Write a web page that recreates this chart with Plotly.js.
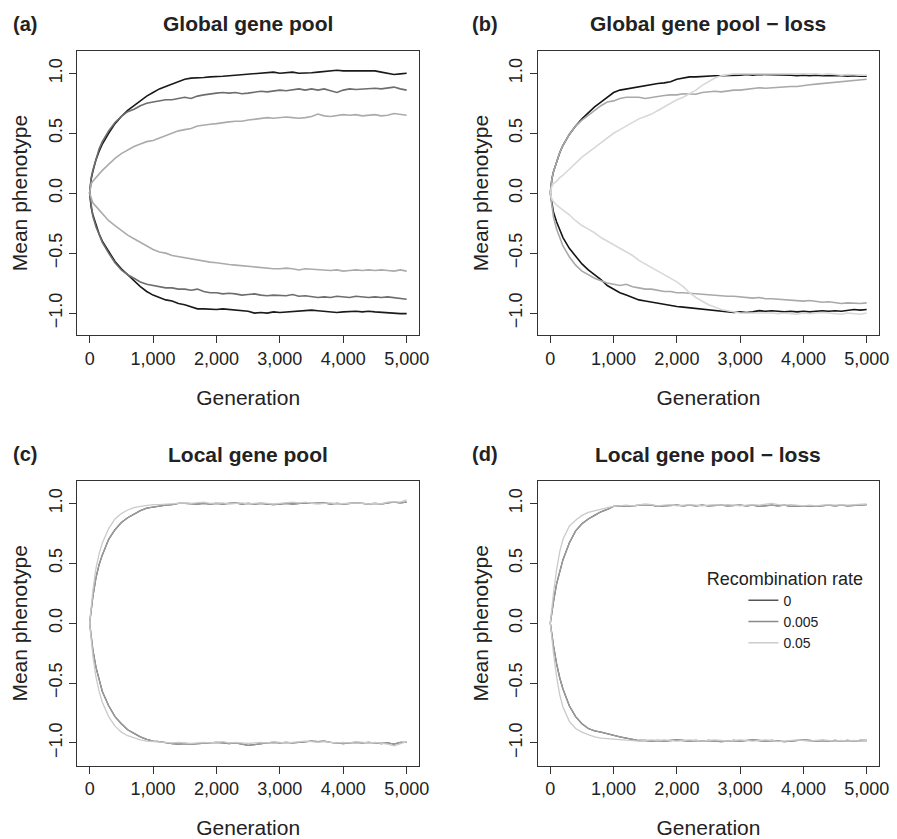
<!DOCTYPE html>
<html>
<head>
<meta charset="utf-8">
<script src="https://cdn.plot.ly/plotly-3.0.1.min.js"></script>
<style>html,body{margin:0;padding:0;background:#fff;}#chart{width:897px;height:839px;}</style>
</head>
<body>
<div id="chart"></div>
<script>
// Generation (x values shared by every series)
const generation = [0,25,50,100,150,200,300,400,500,600,700,800,900,1000,
 1100,1200,1300,1400,1500,1600,1700,1800,1900,2000,2100,2200,2300,2400,2500,2600,2700,2800,2900,3000,
 3100,3200,3300,3400,3500,3600,3700,3800,3900,4000,4100,4200,4300,4400,4500,4600,4700,4800,4900,5000];

const rateLabels = ["0", "0.005", "0.05"];
const panelTitles = ["Global gene pool", "Global gene pool \u2212 loss", "Local gene pool", "Local gene pool \u2212 loss"];
const panelTags = ["(a)", "(b)", "(c)", "(d)"];
const xTickVals = [0, 1000, 2000, 3000, 4000, 5000];
const yTickVals = [-1, -0.5, 0, 0.5, 1];

// (a) Global gene pool
const a_r0_up = [0,0.12,0.18,0.28,0.35,0.41,0.5,0.58,0.64,0.69,0.73,0.77,0.81,0.84,
 0.87,0.89,0.91,0.93,0.95,0.96,0.96,0.965,0.97,0.97,0.975,0.98,0.985,0.99,0.995,1.0,1.0,1.005,1.01,1.0,
 1.005,1.01,1.0,1.0,1.005,1.01,1.015,1.02,1.025,1.02,1.02,1.015,1.02,1.015,1.02,1.01,1.0,0.99,0.995,1.0];
const a_r005_up = [0,0.13,0.19,0.29,0.37,0.43,0.52,0.59,0.64,0.68,0.7,0.73,0.75,0.76,
 0.77,0.78,0.78,0.79,0.8,0.79,0.81,0.82,0.83,0.835,0.84,0.835,0.84,0.83,0.835,0.845,0.85,0.845,0.855,0.86,
 0.855,0.86,0.87,0.86,0.87,0.86,0.87,0.855,0.84,0.86,0.87,0.865,0.87,0.87,0.875,0.87,0.875,0.885,0.87,0.86];
const a_r05_up = [0,0.08,0.1,0.13,0.16,0.19,0.24,0.29,0.33,0.36,0.39,0.41,0.43,0.44,
 0.46,0.48,0.5,0.52,0.53,0.54,0.56,0.57,0.575,0.58,0.59,0.595,0.6,0.6,0.61,0.615,0.62,0.63,0.625,0.63,
 0.635,0.63,0.625,0.63,0.64,0.66,0.645,0.64,0.65,0.655,0.65,0.655,0.645,0.65,0.655,0.645,0.65,0.665,0.655,0.65];
const a_r0_lo = [0,-0.12,-0.18,-0.27,-0.34,-0.4,-0.49,-0.57,-0.63,-0.68,-0.73,-0.78,-0.82,-0.85,
 -0.87,-0.89,-0.9,-0.92,-0.93,-0.95,-0.965,-0.965,-0.97,-0.97,-0.965,-0.97,-0.975,-0.98,-0.985,-1.0,-0.995,-1.0,-0.99,-0.995,
 -0.99,-0.99,-0.985,-0.98,-0.975,-0.98,-0.985,-0.99,-0.995,-0.99,-0.985,-0.985,-0.99,-0.985,-0.99,-0.995,-1.0,-1.005,-1.005,-1.005];
const a_r005_lo = [0,-0.12,-0.19,-0.28,-0.35,-0.41,-0.5,-0.58,-0.64,-0.68,-0.71,-0.74,-0.76,-0.77,
 -0.78,-0.79,-0.79,-0.8,-0.8,-0.81,-0.8,-0.82,-0.83,-0.83,-0.84,-0.835,-0.84,-0.85,-0.845,-0.84,-0.85,-0.855,-0.85,-0.85,
 -0.855,-0.845,-0.86,-0.855,-0.86,-0.87,-0.865,-0.87,-0.86,-0.865,-0.87,-0.86,-0.865,-0.87,-0.865,-0.87,-0.865,-0.87,-0.875,-0.885];
const a_r05_lo = [0,-0.05,-0.08,-0.11,-0.14,-0.17,-0.23,-0.27,-0.31,-0.35,-0.38,-0.41,-0.44,-0.47,
 -0.49,-0.5,-0.52,-0.53,-0.54,-0.55,-0.56,-0.57,-0.575,-0.58,-0.59,-0.595,-0.6,-0.605,-0.61,-0.62,-0.62,-0.625,-0.63,-0.63,
 -0.625,-0.63,-0.64,-0.63,-0.635,-0.64,-0.64,-0.645,-0.64,-0.65,-0.645,-0.64,-0.645,-0.64,-0.645,-0.64,-0.645,-0.65,-0.64,-0.65];

// (b) Global gene pool - loss
const b_r0_up = [0,0.12,0.18,0.27,0.34,0.4,0.49,0.56,0.62,0.67,0.72,0.76,0.8,0.84,
 0.86,0.87,0.88,0.89,0.9,0.91,0.915,0.92,0.93,0.95,0.96,0.97,0.97,0.975,0.975,0.98,0.98,0.98,0.985,0.985,
 0.99,0.985,0.99,0.99,0.985,0.99,0.985,0.985,0.98,0.985,0.98,0.985,0.98,0.98,0.985,0.98,0.975,0.98,0.975,0.975];
const b_r005_up = [0,0.12,0.18,0.27,0.34,0.4,0.49,0.56,0.61,0.65,0.69,0.73,0.76,0.77,
 0.79,0.8,0.8,0.8,0.79,0.8,0.81,0.815,0.82,0.82,0.83,0.83,0.825,0.84,0.845,0.85,0.845,0.855,0.86,0.86,
 0.865,0.875,0.88,0.875,0.88,0.885,0.885,0.89,0.89,0.9,0.905,0.91,0.915,0.92,0.92,0.93,0.935,0.94,0.945,0.95];
const b_r05_up = [0,0.06,0.08,0.1,0.13,0.15,0.2,0.25,0.3,0.34,0.38,0.42,0.46,0.5,
 0.53,0.56,0.59,0.62,0.64,0.66,0.69,0.72,0.75,0.78,0.8,0.83,0.86,0.9,0.93,0.96,0.98,0.99,0.995,0.995,
 0.995,1.0,0.995,1.0,0.995,1.0,0.995,1.0,0.995,1.0,1.0,0.995,0.99,0.995,0.99,0.985,0.99,0.985,0.985,0.985];
const b_r0_lo = [0,-0.1,-0.16,-0.24,-0.31,-0.37,-0.46,-0.53,-0.59,-0.64,-0.68,-0.72,-0.77,-0.8,
 -0.83,-0.85,-0.87,-0.89,-0.9,-0.91,-0.92,-0.93,-0.94,-0.945,-0.95,-0.955,-0.96,-0.965,-0.975,-0.98,-0.985,-0.99,-0.995,-0.99,
 -0.995,-0.99,-0.98,-0.985,-0.98,-0.985,-0.99,-0.985,-0.99,-0.985,-0.99,-0.985,-0.98,-0.985,-0.98,-0.985,-0.975,-0.97,-0.975,-0.97];
const b_r005_lo = [0,-0.13,-0.2,-0.3,-0.38,-0.44,-0.53,-0.6,-0.65,-0.68,-0.71,-0.73,-0.75,-0.76,
 -0.77,-0.76,-0.78,-0.79,-0.8,-0.8,-0.81,-0.82,-0.82,-0.83,-0.83,-0.835,-0.84,-0.845,-0.85,-0.85,-0.855,-0.86,-0.86,-0.865,
 -0.87,-0.875,-0.87,-0.88,-0.88,-0.885,-0.89,-0.89,-0.895,-0.9,-0.895,-0.905,-0.91,-0.905,-0.91,-0.92,-0.915,-0.92,-0.92,-0.915];
const b_r05_lo = [0,-0.05,-0.07,-0.1,-0.12,-0.14,-0.18,-0.23,-0.27,-0.3,-0.33,-0.37,-0.4,-0.43,
 -0.46,-0.49,-0.52,-0.56,-0.59,-0.62,-0.65,-0.68,-0.71,-0.74,-0.78,-0.83,-0.87,-0.9,-0.93,-0.95,-0.97,-0.98,-0.99,-1.0,
 -1.0,-1.0,-0.995,-1.0,-1.0,-1.005,-1.0,-1.005,-1.01,-1.0,-1.005,-1.0,-0.995,-1.0,-1.005,-1.01,-1.0,-1.005,-1.01,-1.0];

// (c) Local gene pool
const c_r0_up = [0,0.12,0.22,0.38,0.49,0.57,0.7,0.78,0.84,0.88,0.91,0.94,0.96,0.97,
 0.98,0.985,0.99,1.0,1.0,0.995,0.995,1.0,0.995,1.0,0.995,1.0,1.005,0.995,1.0,0.995,1.0,0.995,0.99,0.995,
 1.0,0.995,1.0,1.005,1.0,1.0,1.005,0.995,1.0,0.995,1.0,1.005,1.0,0.995,1.0,0.995,1.005,1.01,1.005,1.01];
const c_r005_up = [0,0.12,0.22,0.38,0.49,0.57,0.7,0.78,0.84,0.88,0.91,0.94,0.96,0.97,
 0.98,0.985,0.99,1.0,1.0,0.995,0.995,1.0,0.995,1.0,0.995,1.0,1.005,0.995,1.0,0.995,1.0,0.995,0.99,0.995,
 1.0,0.995,1.0,1.005,1.0,1.0,1.005,0.995,1.0,0.995,1.0,1.005,1.0,0.995,1.0,0.995,1.005,1.01,1.005,1.01];
const c_r05_up = [0,0.15,0.27,0.46,0.58,0.67,0.79,0.87,0.915,0.945,0.965,0.975,0.985,0.99,
 0.99,0.995,0.995,1.0,1.005,1.0,1.005,1.01,1.0,1.0,1.005,0.995,1.0,1.005,0.995,1.0,1.005,1.0,0.995,1.0,
 1.005,1.01,1.005,1.01,1.0,0.995,1.0,1.005,0.995,1.0,1.0,1.005,1.0,0.995,1.0,0.995,1.01,1.015,1.01,1.03];
const c_r0_lo = [0,-0.12,-0.22,-0.37,-0.48,-0.57,-0.69,-0.78,-0.84,-0.89,-0.92,-0.95,-0.97,-0.985,
 -0.99,-1.0,-1.005,-1.01,-1.005,-1.01,-1.005,-1.0,-1.0,-0.995,-1.0,-1.005,-1.0,-1.01,-1.02,-1.015,-1.005,-1.0,-0.995,-1.0,
 -0.995,-1.0,-0.995,-0.99,-0.985,-0.99,-0.985,-0.995,-1.0,-1.005,-1.0,-0.995,-1.0,-0.995,-1.0,-1.005,-1.0,-1.01,-0.995,-0.995];
const c_r005_lo = [0,-0.12,-0.22,-0.37,-0.48,-0.57,-0.69,-0.78,-0.84,-0.89,-0.92,-0.95,-0.97,-0.985,
 -0.99,-1.0,-1.005,-1.01,-1.005,-1.01,-1.005,-1.0,-1.0,-0.995,-1.0,-1.005,-1.0,-1.01,-1.02,-1.015,-1.005,-1.0,-0.995,-1.0,
 -0.995,-1.0,-0.995,-0.99,-0.985,-0.99,-0.985,-0.995,-1.0,-1.005,-1.0,-0.995,-1.0,-0.995,-1.0,-1.005,-1.0,-1.01,-0.995,-0.995];
const c_r05_lo = [0,-0.15,-0.27,-0.45,-0.57,-0.66,-0.78,-0.86,-0.91,-0.94,-0.96,-0.975,-0.985,-0.99,
 -0.995,-1.0,-1.0,-0.995,-1.0,-1.005,-1.0,-0.995,-1.0,-0.995,-0.99,-1.0,-0.995,-1.0,-1.005,-1.0,-0.995,-1.0,-0.99,-0.995,
 -1.0,-0.995,-0.99,-0.985,-0.99,-0.995,-0.99,-0.995,-1.0,-0.995,-1.0,-0.99,-0.995,-1.0,-0.995,-1.0,-1.01,-1.025,-1.01,-0.99];

// (d) Local gene pool - loss
const d_r0_up = [0,0.1,0.18,0.33,0.44,0.53,0.67,0.77,0.83,0.87,0.9,0.93,0.95,0.975,
 0.98,0.975,0.98,0.985,0.99,0.985,0.975,0.98,0.985,0.985,0.98,0.985,0.98,0.985,0.98,0.985,0.985,0.98,0.985,0.985,
 0.98,0.985,0.975,0.98,0.985,0.98,0.985,0.975,0.98,0.975,0.98,0.975,0.98,0.985,0.98,0.985,0.98,0.985,0.99,0.99];
const d_r005_up = [0,0.1,0.18,0.33,0.44,0.53,0.67,0.77,0.83,0.87,0.9,0.93,0.95,0.975,
 0.98,0.975,0.98,0.985,0.99,0.985,0.975,0.98,0.985,0.985,0.98,0.985,0.98,0.985,0.98,0.985,0.985,0.98,0.985,0.985,
 0.98,0.985,0.975,0.98,0.985,0.98,0.985,0.975,0.98,0.975,0.98,0.975,0.98,0.985,0.98,0.985,0.98,0.985,0.99,0.99];
const d_r05_up = [0,0.13,0.25,0.45,0.6,0.7,0.81,0.86,0.9,0.925,0.94,0.955,0.965,0.975,
 0.98,0.985,0.98,0.985,0.995,0.99,0.98,0.985,0.99,0.98,0.985,0.99,0.985,0.98,0.985,0.99,0.985,0.99,0.985,0.98,
 0.985,0.99,0.985,0.995,1.0,0.99,0.985,0.99,0.985,0.98,0.985,0.98,0.985,0.99,0.985,0.99,0.985,0.99,0.99,0.995];
const d_r0_lo = [0,-0.1,-0.19,-0.34,-0.46,-0.55,-0.69,-0.78,-0.84,-0.88,-0.9,-0.91,-0.925,-0.94,
 -0.95,-0.96,-0.97,-0.98,-0.98,-0.985,-0.98,-0.985,-0.98,-0.975,-0.98,-0.985,-0.98,-0.985,-0.98,-0.985,-0.99,-0.985,-0.98,-0.985,
 -0.98,-0.975,-0.98,-0.985,-0.98,-0.985,-0.99,-0.985,-0.98,-0.975,-0.98,-0.985,-0.98,-0.985,-0.98,-0.985,-0.98,-0.985,-0.98,-0.98];
const d_r005_lo = [0,-0.1,-0.19,-0.34,-0.46,-0.55,-0.69,-0.78,-0.84,-0.88,-0.9,-0.91,-0.925,-0.94,
 -0.95,-0.96,-0.97,-0.98,-0.98,-0.985,-0.98,-0.985,-0.98,-0.975,-0.98,-0.985,-0.98,-0.985,-0.98,-0.985,-0.99,-0.985,-0.98,-0.985,
 -0.98,-0.975,-0.98,-0.985,-0.98,-0.985,-0.99,-0.985,-0.98,-0.975,-0.98,-0.985,-0.98,-0.985,-0.98,-0.985,-0.98,-0.985,-0.98,-0.98];
const d_r05_lo = [0,-0.13,-0.25,-0.45,-0.6,-0.7,-0.82,-0.88,-0.91,-0.93,-0.95,-0.96,-0.965,-0.97,
 -0.975,-0.975,-0.98,-0.985,-0.98,-0.975,-0.98,-0.975,-0.98,-0.985,-0.98,-0.975,-0.98,-0.985,-0.98,-0.975,-0.98,-0.985,-0.98,-0.975,
 -0.98,-0.985,-0.98,-0.975,-0.98,-0.99,-0.985,-0.98,-0.975,-0.98,-0.985,-0.98,-0.975,-0.98,-0.985,-0.98,-0.985,-0.98,-0.985,-0.98];

// ---------- styling (not data) ----------
const FONT = "Liberation Sans, Arial, Helvetica, sans-serif";
const panels = [
  {up: [a_r0_up, a_r005_up, a_r05_up], lo: [a_r0_lo, a_r005_lo, a_r05_lo], colors: ["#1a1a1a", "#6d6d6d", "#ababab"], width: 1.6},
  {up: [b_r0_up, b_r005_up, b_r05_up], lo: [b_r0_lo, b_r005_lo, b_r05_lo], colors: ["#151515", "#a9a9a9", "#d8d8d8"], width: 1.6},
  {up: [c_r0_up, c_r005_up, c_r05_up], lo: [c_r0_lo, c_r005_lo, c_r05_lo], colors: ["#555555", "#9b9b9b", "#cacaca"], width: 1.3},
  {up: [d_r0_up, d_r005_up, d_r05_up], lo: [d_r0_lo, d_r005_lo, d_r05_lo], colors: ["#555555", "#9b9b9b", "#cacaca"], width: 1.3}
];
const legendColors = ["#555555", "#8a8a8a", "#cccccc"];

const xDomains = [[0.0858, 0.4675], [0.5994, 0.9803], [0.0858, 0.4675], [0.5994, 0.9803]];
const yDomains = [[0.6007, 0.9392], [0.6007, 0.9392], [0.0874, 0.4267], [0.0874, 0.4267]];
const yRanges = [[-1.183, 1.186], [-1.183, 1.186], [-1.19, 1.187], [-1.19, 1.187]];

const traces = [];
panels.forEach((p, i) => {
  const xa = i === 0 ? "x" : "x" + (i + 1);
  const ya = i === 0 ? "y" : "y" + (i + 1);
  for (let r = 0; r < 3; r++) {
    ["up", "lo"].forEach((br) => {
      traces.push({
        type: "scatter", mode: "lines",
        x: generation, y: p[br][r],
        xaxis: xa, yaxis: ya,
        name: rateLabels[r],
        showlegend: false,
        hoverinfo: "skip",
        line: {color: p.colors[r], width: p.width}
      });
    });
  }
});
// legend-only entries (no visible marks)
for (let r = 0; r < 3; r++) {
  traces.push({
    type: "scatter", mode: "lines",
    x: [null], y: [null], xaxis: "x4", yaxis: "y4",
    name: rateLabels[r], showlegend: true,
    line: {color: legendColors[r], width: 1.6}
  });
}

const layout = {
  width: 897, height: 839,
  margin: {l: 0, r: 0, t: 0, b: 0},
  paper_bgcolor: "#fff", plot_bgcolor: "#fff",
  font: {family: FONT, color: "#222", size: 18},
  showlegend: true,
  legend: {
    x: 0.875, xanchor: "center", y: 0.331, yanchor: "top",
    bgcolor: "rgba(0,0,0,0)", borderwidth: 0,
    font: {family: FONT, size: 14, color: "#222"},
    title: {text: "Recombination rate", side: "top center", font: {family: FONT, size: 18, color: "#222"}},
    indentation: 39, tracegroupgap: 0, itemwidth: 30
  },
  annotations: [],
  shapes: []
};

for (let i = 0; i < 4; i++) {
  const sx = i === 0 ? "" : String(i + 1);
  layout["xaxis" + sx] = {
    domain: xDomains[i], range: [-200, 5200], anchor: "y" + sx,
    tickmode: "array", tickvals: xTickVals, tickformat: ",d",
    ticks: "outside", ticklen: 7, tickwidth: 1, tickcolor: "#333",
    showline: true, mirror: true, linecolor: "#333", linewidth: 1,
    showgrid: false, zeroline: false, automargin: false,
    tickfont: {family: FONT, size: 18, color: "#222"},
    title: {text: "Generation", font: {family: FONT, size: 21, color: "#222"}, standoff: 22}
  };
  layout["yaxis" + sx] = {
    domain: yDomains[i], range: yRanges[i], anchor: "x" + sx,
    tickmode: "array", tickvals: yTickVals, tickformat: ".1f", tickangle: -90,
    ticks: "outside", ticklen: 7, tickwidth: 1, tickcolor: "#333",
    showline: true, mirror: true, linecolor: "#333", linewidth: 1,
    showgrid: false, zeroline: false, automargin: false,
    tickfont: {family: FONT, size: 18, color: "#222"},
    title: {text: "Mean phenotype", font: {family: FONT, size: 21, color: "#222"}, standoff: 12}
  };
  const titleY = i < 2 ? 1 - 24 / 839 : 1 - 454 / 839;
  layout.annotations.push({
    xref: "paper", yref: "paper", x: (xDomains[i][0] + xDomains[i][1]) / 2, y: titleY,
    xanchor: "center", yanchor: "middle", showarrow: false,
    text: "<b>" + panelTitles[i] + "</b>", font: {family: FONT, size: 21, color: "#222"}
  });
  layout.annotations.push({
    xref: "paper", yref: "paper", x: (i % 2 === 0 ? 25 : 485) / 897, y: titleY,
    xanchor: "center", yanchor: "middle", showarrow: false,
    text: "<b>" + panelTags[i] + "</b>", font: {family: FONT, size: 20, color: "#222"}
  });
}

Plotly.newPlot("chart", traces, layout, {staticPlot: true, displayModeBar: false});
</script>
</body>
</html>
